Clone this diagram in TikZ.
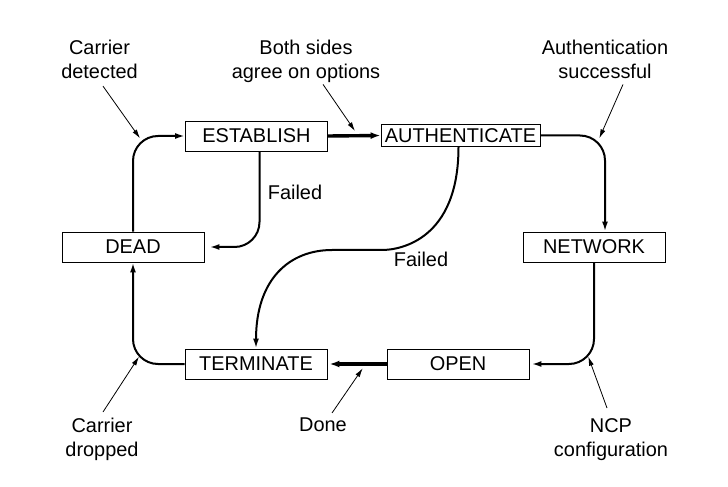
\documentclass[tikz,border=0pt]{standalone}
\usepackage{fontspec}
\setmainfont{Liberation Sans}
\usepackage{xcolor}
\usetikzlibrary{calc,arrows.meta}
\definecolor{ink}{HTML}{000000}
\tikzset{
  state/.style={draw=ink, line width=0.9bp, minimum width=142bp, minimum height=30bp, inner sep=0pt, font=\fontsize{20}{24}\selectfont},
  link/.style={draw=ink, line width=2bp, rounded corners=25bp, -{Latex[length=10bp,width=6bp]}},
  bold/.style={draw=ink, line width=3.4bp, -{Latex[length=10bp,width=7bp]}},
  note/.style={draw=ink, line width=0.8bp, -{Latex[length=9bp,width=5bp]}},
  lab/.style={text=ink, inner sep=0pt, align=center, font=\fontsize{20}{24}\selectfont},
}

\begin{document}
\begin{tikzpicture}[x=1bp,y=-1bp]
  \useasboundingbox (0,0) rectangle (728,487);
  % states
  \node[state] (establish) at (256.5,136) {ESTABLISH};
  \node[state,minimum width=159bp,minimum height=22bp] (auth) at (460.5,135.5) {AUTHENTICATE};
  \node[state] (dead) at (133,247) {DEAD};
  \node[state] (network) at (594,247) {NETWORK};
  \node[state] (terminate) at (256,364) {TERMINATE};
  \node[state] (open) at (458,364) {OPEN};
  \coordinate (mid) at (357,250);
  % transitions
  \draw[link] (dead.north) |- (establish.west);
  \draw[link,shorten >=5bp] ([xshift=3bp]establish.south) |- (dead.east);
  \draw[bold] (establish.east) -- (auth.west);
  \draw[link] (auth.east) -| ([xshift=11bp]network.north);
  \draw[link] ([xshift=-2bp]auth.south) .. controls +(0,93) and +(43,0) .. (mid)
    .. controls +(-67,0) and +(0,-70) .. (terminate.north);
  \draw[link,shorten >=2bp] (network.south) |- (open.east);
  \draw[bold,shorten >=2bp] (open.west) -- (terminate.east);
  \draw[link] (terminate.west) -| (dead.south);
  \node[lab,anchor=base] (failest) at (295,199.3) {Failed};
  \node[lab,anchor=base] (failauth) at (421,266.7) {Failed};
  % events
  \node[lab,anchor=north] (detected) at (99.5,39.5) {Carrier\\detected};
  \node[lab,anchor=north] (agree) at (306,39.5) {Both sides\\agree on options};
  \node[lab,anchor=north] (success) at (605,39.5) {Authentication\\successful};
  \node[lab,anchor=north] (dropped) at (102,418) {Carrier\\dropped};
  \node[lab,anchor=north] (done) at (323,418) {Done};
  \node[lab,anchor=north] (ncp) at (611,418) {NCP\\configuration};
  \coordinate (detectedtip) at (140,138.3);
  \coordinate (agreetip) at (355,131);
  \coordinate (successtip) at (599.3,138.3);
  \coordinate (droppedtip) at (139,356.7);
  \coordinate (donetip) at (362.7,368.3);
  \coordinate (ncptip) at (588.3,356.7);
  \draw[note] ([xshift=3.5bp,yshift=-7.7bp]detected.south) -- (detectedtip);
  \draw[note] ([xshift=17bp,yshift=-2bp]agree.south) -- (agreetip);
  \draw[note] ([xshift=18bp,yshift=-6bp]success.south) -- (successtip);
  \draw[note] ([xshift=1bp,yshift=6bp]dropped.north) -- (droppedtip);
  \draw[note] ([xshift=9bp,yshift=5bp]done.north) -- (donetip);
  \draw[note] ([xshift=-4bp,yshift=10bp]ncp.north) -- (ncptip);
\end{tikzpicture}
\end{document}
